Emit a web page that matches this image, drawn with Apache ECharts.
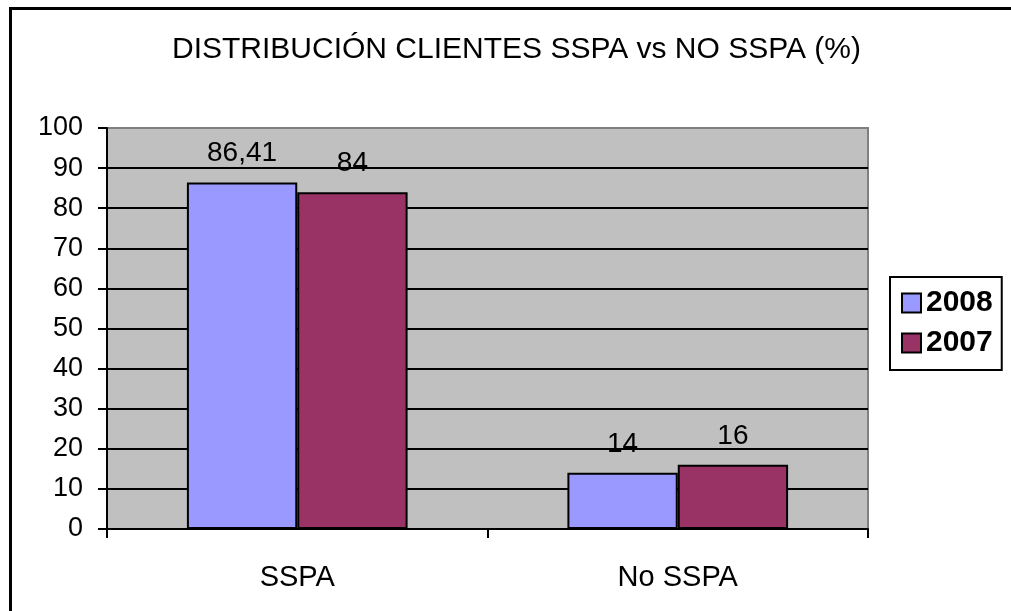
<!DOCTYPE html>
<html>
<head>
<meta charset="utf-8">
<script src="https://cdn.jsdelivr.net/npm/echarts@6/dist/echarts.min.js"></script>
<style>
  html, body { margin: 0; padding: 0; background: #fff; }
  #chart { width: 1011px; height: 611px; }
</style>
</head>
<body>
<div id="chart"></div>
<script>
var categories = ['SSPA', 'No SSPA'];
var values2008 = [86.41, 14];
var values2007 = [84, 16];
var yTicks = [0, 10, 20, 30, 40, 50, 60, 70, 80, 90, 100];

var fontFam = '"Liberation Sans", Arial, sans-serif';

// colores de las lineas de division: la de 100 es el borde gris
var splitColors = yTicks.map(function (t) { return t === 100 ? '#808080' : '#000'; });

function labelFmt(p) {
    return String(p.value).replace('.', ',');
}

var option = {
    backgroundColor: '#fff',
    animation: false,
    title: {
        text: 'DISTRIBUCIÓN CLIENTES SSPA vs NO SSPA (%)',
        left: 167,
        top: 30,
        textStyle: { fontFamily: fontFam, fontSize: 30, fontWeight: 'normal', color: '#000' }
    },
    legend: {
        orient: 'vertical',
        left: 890,
        top: 277,
        padding: [11, 9, 12, 11],
        itemGap: 10,
        itemWidth: 19,
        itemHeight: 19,
        borderColor: '#000',
        borderWidth: 2,
        icon: 'rect',
        textStyle: { fontFamily: fontFam, fontSize: 30, fontWeight: 'bold', color: '#000' },
        data: ['2008', '2007']
    },
    grid: {
        left: 107,
        top: 128,
        right: 143,
        bottom: 82,
        show: true,
        backgroundColor: '#C0C0C0',
        borderColor: '#808080',
        borderWidth: 2
    },
    xAxis: {
        type: 'category',
        data: categories,
        axisLine: { lineStyle: { color: '#000', width: 2 } },
        axisTick: { show: true, length: 9, lineStyle: { color: '#000', width: 2 } },
        axisLabel: { fontFamily: fontFam, fontSize: 29, color: '#000', margin: 34 }
    },
    yAxis: {
        type: 'value',
        min: 0,
        max: 100,
        interval: 10,
        axisLine: { show: true, lineStyle: { color: '#000', width: 2 } },
        axisTick: { show: true, length: 9, lineStyle: { color: '#000', width: 2 } },
        axisLabel: { fontFamily: fontFam, fontSize: 27, color: '#000', margin: 24 },
        splitLine: { show: true, lineStyle: { color: splitColors, width: 2 } }
    },
    graphic: [{
        type: 'rect',
        shape: { x: 10.5, y: 8.5, width: 1100, height: 700 },
        style: { fill: 'none', stroke: '#000', lineWidth: 3 },
        silent: true
    }],
    series: [
        {
            name: '2008',
            type: 'bar',
            data: values2008,
            barGap: '0%',
            barCategoryGap: '42%',
            itemStyle: { color: '#9999FF', borderColor: '#000', borderWidth: 2 },
            label: { show: true, position: 'top', distance: 15, formatter: labelFmt,
                     fontFamily: fontFam, fontSize: 28, color: '#000' }
        },
        {
            name: '2007',
            type: 'bar',
            data: values2007,
            barGap: '0%',
            barCategoryGap: '42%',
            itemStyle: { color: '#993366', borderColor: '#000', borderWidth: 2 },
            label: { show: true, position: 'top', distance: 15, formatter: labelFmt,
                     fontFamily: fontFam, fontSize: 28, color: '#000' }
        }
    ]
};

var chart = echarts.init(document.getElementById('chart'));
chart.setOption(option);
</script>
</body>
</html>
